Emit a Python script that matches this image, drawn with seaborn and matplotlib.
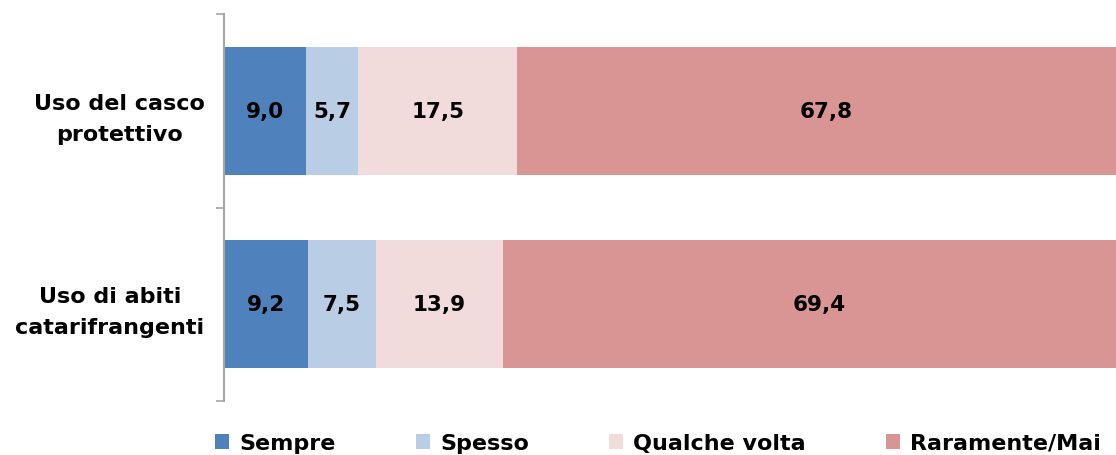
import matplotlib
matplotlib.use("Agg")
import matplotlib.pyplot as plt
import seaborn as sns
import pandas as pd
import numpy as np
from matplotlib.patches import Patch

categories = ["Uso del casco\nprotettivo", "Uso di abiti\ncatarifrangenti"]
series = ["Sempre", "Spesso", "Qualche volta", "Raramente/Mai"]
sempre = [9.0, 9.2]
spesso = [5.7, 7.5]
qualche = [17.5, 13.9]
raramente = [67.8, 69.4]
colors = ["#4F81BD", "#B9CDE5", "#F2DCDB", "#D99594"]

sns.set_style("white")
plt.rcParams['font.family'] = ['DejaVu Sans']
plt.rcParams['text.color'] = 'black'
plt.rcParams['ytick.labelcolor'] = 'black'

values = [sempre, spesso, qualche, raramente]
cum = np.cumsum(np.array(values), axis=0)

fig = plt.figure(figsize=(11.16, 4.56), dpi=100)
ax = fig.add_axes([224/1116, 54/456, 1 - 224/1116, (402-15)/456])

# draw from the largest cumulative to the smallest so segments stack
for i in range(len(series) - 1, -1, -1):
    df = pd.DataFrame({"cat": categories, "val": cum[i]})
    sns.barplot(data=df, x="val", y="cat", orient="h", color=colors[i],
                width=0.66, ax=ax, saturation=1, edgecolor="none")

for j in range(len(categories)):
    start = 0
    for i in range(len(series)):
        v = values[i][j]
        ax.text(start + v / 2, j, f"{v:.1f}".replace(".", ","), ha="center", va="center",
                fontsize=15.5, fontweight="bold", color="black")
        start += v

ax.set_xlim(0, 97.9)
ax.set_ylim(1.5, -0.5)
ax.set_xlabel("")
ax.set_ylabel("")
ax.set_xticks([])
ax.set_yticks([-0.5, 0.5, 1.5])
ax.set_yticklabels([])
ax.set_yticks([0, 1], minor=True)
ax.set_yticklabels(categories, minor=True, fontsize=16, fontweight="bold",
                   multialignment="center", linespacing=1.7, color="black")
ax.tick_params(axis="y", which="major", length=6, width=1.2, color="#A6A6A6", left=True)
ax.tick_params(axis="y", which="minor", length=0, pad=14)
for s in ["top", "right", "bottom"]:
    ax.spines[s].set_visible(False)
ax.spines["left"].set_color("#A6A6A6")
ax.spines["left"].set_linewidth(1.5)

handles = [Patch(facecolor=c, edgecolor="none") for c in colors]
leg = fig.legend(handles, series, loc="center", bbox_to_anchor=(658/1116, 1 - 444/456), ncol=4,
                 frameon=False, prop={"weight": "bold", "size": 16},
                 handlelength=0.65, handleheight=0.65, handletextpad=0.45, columnspacing=3.6)
for t in leg.get_texts():
    t.set_color("black")

fig.savefig("out.png", dpi=100)
